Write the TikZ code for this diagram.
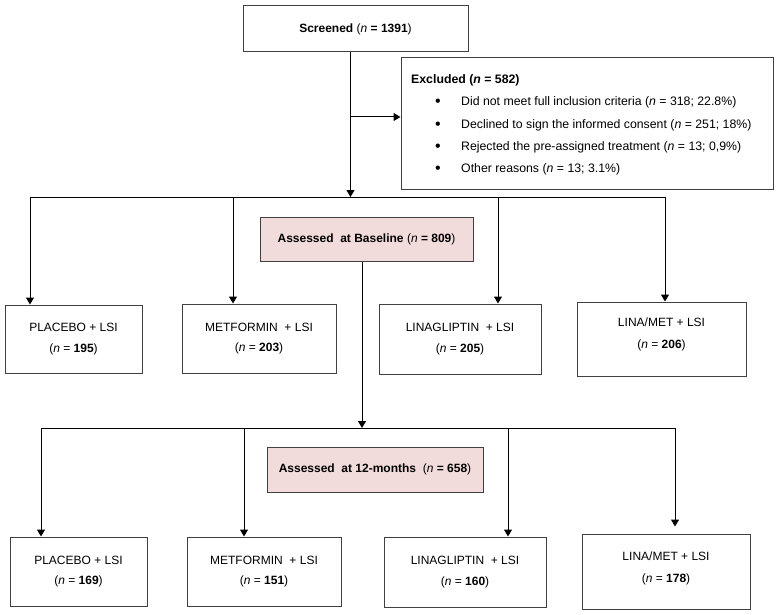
\documentclass[tikz,border=0pt]{standalone}
\usepackage{fontspec}
\setmainfont{Liberation Sans}
\usetikzlibrary{arrows.meta}
\definecolor{pinkfill}{HTML}{F2DCDB}
\definecolor{edge}{HTML}{404040}
\begin{document}
\begin{tikzpicture}[x=1pt,y=-1pt,
  box/.style={draw=edge, line width=1pt, align=center, inner sep=0pt, font=\fontsize{12}{20.5}\selectfont},
  stage/.style={box, fill=pinkfill},
  inner/.style={align=center, inner sep=0pt, font=\fontsize{12}{22}\selectfont},
  arr/.style={line width=1pt, draw=black, -{Triangle[width=8pt,length=7pt]}},
  ln/.style={line width=1pt, draw=black},
  txt/.style={font=\fontsize{12.3}{14}\selectfont, inner sep=0pt, anchor=west},
  dot/.style={font=\fontsize{16}{14}\selectfont, inner sep=0pt}]
\useasboundingbox (0,0) rectangle (781,615);
% boxes
\node[box, minimum width=225pt, minimum height=46pt] (scr) at (355.5,29) {\textbf{Screened} (\textit{n} \textbf{= 1391})};
\node[box, minimum width=372pt, minimum height=131pt] (excl) at (587,123.5) {};
\node[txt] (exh) at (411,80) {\textbf{Excluded (\textit{n} = 582)}};
\node[dot] (bu1) at (438,103) {\textbullet};
\node[dot] (bu2) at (438,126) {\textbullet};
\node[dot] (bu3) at (438,148) {\textbullet};
\node[dot] (bu4) at (438,170) {\textbullet};
\node[txt] (e1) at (461,102) {Did not meet full inclusion criteria (\textit{n} = 318; 22.8\%)};
\node[txt] (e2) at (461,125) {Declined to sign the informed consent (\textit{n} = 251; 18\%)};
\node[txt] (e3) at (461,147) {Rejected the pre-assigned treatment (\textit{n} = 13; 0,9\%)};
\node[txt] (e4) at (461,169) {Other reasons (\textit{n} = 13; 3.1\%)};

\node[stage, minimum width=213pt, minimum height=44pt] (base) at (366.5,239) {\textbf{Assessed\ \ at Baseline} (\textit{n} \textbf{= 809})};
\node[stage, minimum width=216pt, minimum height=45pt] (twelve) at (375,469.5) {\textbf{Assessed\ \ at 12-months}\ \ (\textit{n} \textbf{= 658})};

\node[box, minimum width=137pt, minimum height=68pt] (P1) at (73.5,339) {PLACEBO + LSI\\(\textit{n} = \textbf{195})};
\node[box, minimum width=154pt, minimum height=69pt] (M1) at (259,338.5) {METFORMIN\ \ + LSI\\(\textit{n} = \textbf{203})};
\node[box, minimum width=162pt, minimum height=70pt] (L1) at (460,339) {LINAGLIPTIN\ \ + LSI\\(\textit{n} = \textbf{205})};
\node[box, minimum width=169pt, minimum height=74pt] (LM1) at (661.5,339) {};
\node[inner] (LM1t) at (661.5,334) {LINA/MET + LSI\\(\textit{n} = \textbf{206})};

\node[box, minimum width=137pt, minimum height=69pt] (P2) at (78.5,571.5) {PLACEBO + LSI\\(\textit{n} = \textbf{169})};
\node[box, minimum width=154pt, minimum height=69pt] (M2) at (264,571.5) {METFORMIN\ \ + LSI\\(\textit{n} = \textbf{151})};
\node[box, minimum width=162pt, minimum height=70pt] (L2) at (465,572) {LINAGLIPTIN\ \ + LSI\\(\textit{n} = \textbf{160})};
\node[box, minimum width=168pt, minimum height=75pt] (LM2) at (666,571.5) {};
\node[inner] (LM2t) at (666,568) {LINA/MET + LSI\\(\textit{n} = \textbf{178})};

% coordinates
\coordinate (c1) at (350.5,197);
\coordinate (j1) at (350.5,117);
\coordinate (a1) at (30,197);
\coordinate (a2) at (233,197);
\coordinate (a3) at (498,197);
\coordinate (a4) at (665,197);
\coordinate (c2) at (362,428);
\coordinate (b1) at (41,428);
\coordinate (b2) at (244,428);
\coordinate (b3) at (508,428);
\coordinate (b4) at (675,428);

% connectors
\draw[arr] (scr.south -| c1) -- (c1);
\draw[arr] (j1) -- (j1 -| excl.west);
\draw[ln] (a1) -- (a4);
\draw[arr] (a1) -- (a1 |- P1.north);
\draw[arr] (a2) -- (a2 |- M1.north);
\draw[arr] (a3) -- (a3 |- L1.north);
\draw[arr] (a4) -- (a4 |- LM1.north);

\draw[arr] (base.south -| c2) -- (c2);
\draw[ln] (b1) -- (b4);
\draw[arr] (b1) -- (b1 |- P2.north);
\draw[arr] (b2) -- (b2 |- M2.north);
\draw[arr] (b3) -- (b3 |- L2.north);
\draw[arr, shorten >=7pt] (b4) -- (b4 |- LM2.north);
\end{tikzpicture}
\end{document}
